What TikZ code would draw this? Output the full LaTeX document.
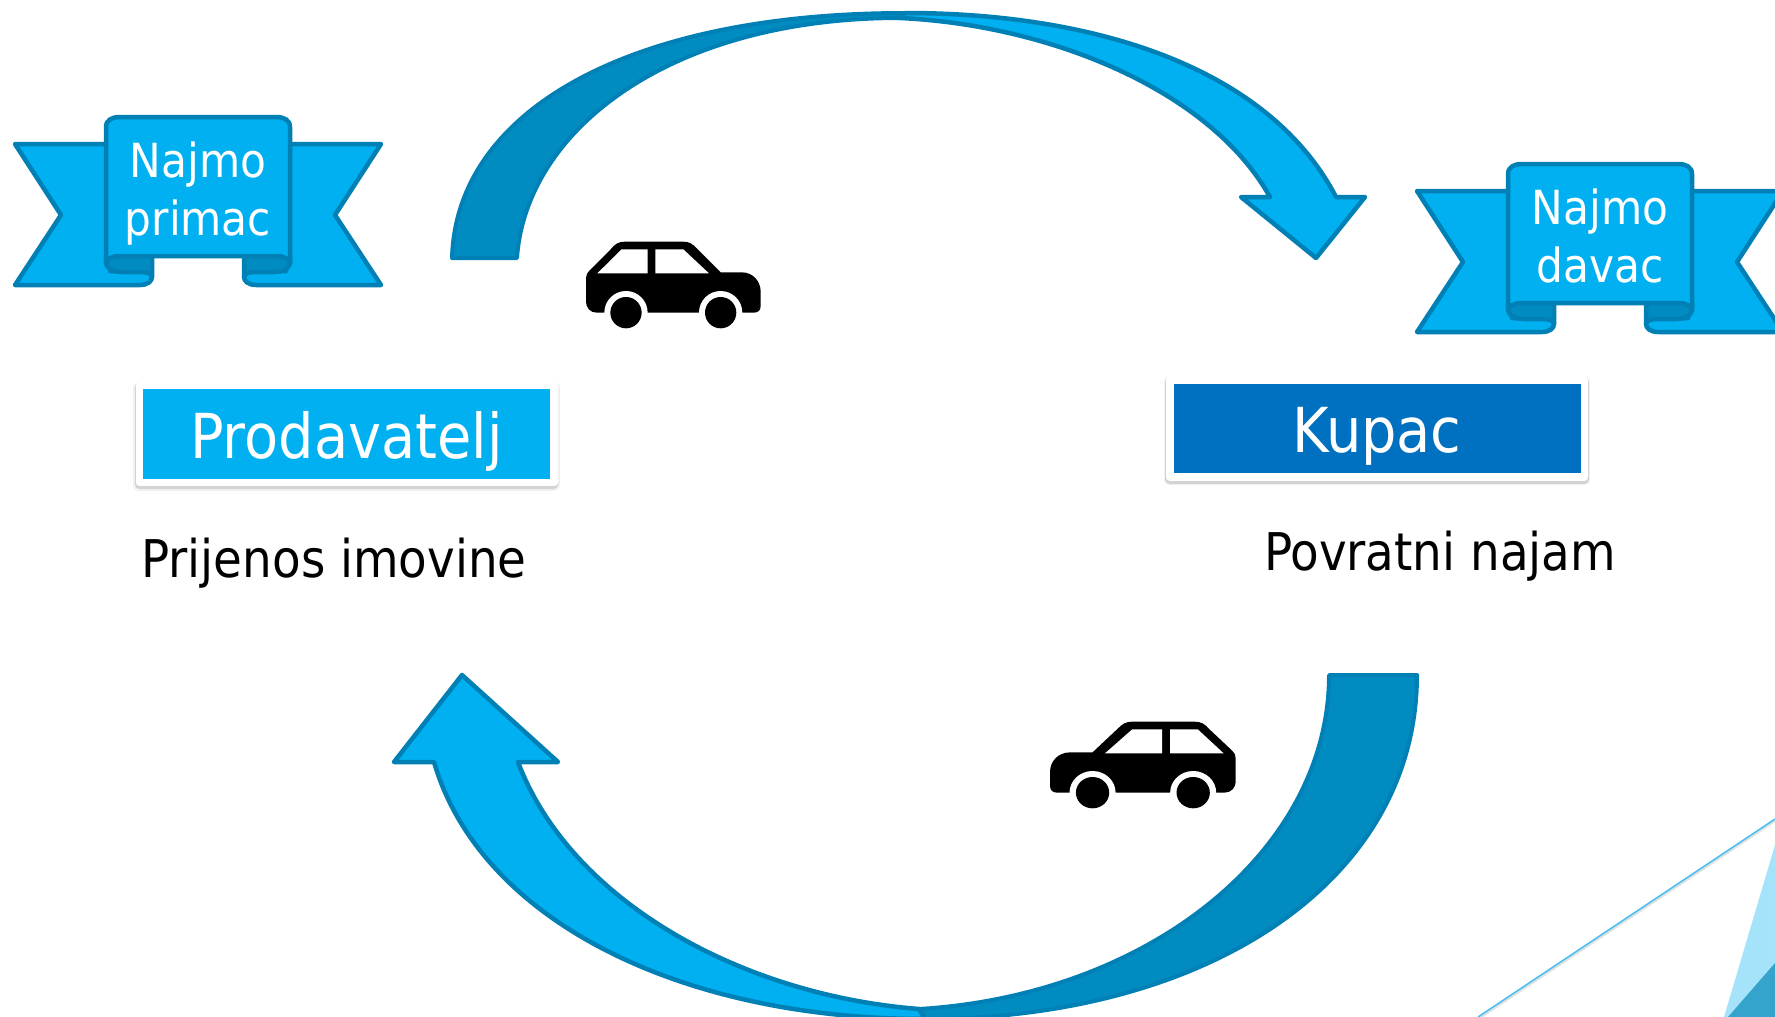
\documentclass[tikz,border=0pt]{standalone}
\usepackage{fontspec}
\setmainfont{DejaVu Sans Condensed}
\usetikzlibrary{shadows}
\definecolor{lightblue}{HTML}{00B0F0}
\definecolor{darkblue}{HTML}{0070C0}
\definecolor{edgeblue}{HTML}{0080B5}
\definecolor{foldblue}{HTML}{008CC1}
\definecolor{paleblue}{HTML}{A5E3FA}
\definecolor{deepblue}{HTML}{35A4CD}
\definecolor{lineblue}{HTML}{45BFEE}
\tikzstyle{band}=[draw=edgeblue,line width=4.5pt,line join=round,fill=lightblue]
\tikzstyle{fold}=[draw=edgeblue,line width=4.5pt,line join=round,fill=foldblue]
\tikzstyle{sweep}=[draw=edgeblue,line width=4.5pt,line join=round,fill=lightblue]
\tikzstyle{sweepdark}=[draw=edgeblue,line width=4pt,line join=round,fill=foldblue]
\tikzstyle{title}=[rectangle,draw=white,line width=7.5pt,line join=round,minimum width=414.5pt,minimum height=97pt,text=white,text height=48pt,text depth=0pt,font=\fontsize{62}{74}\selectfont,
    drop shadow={shadow xshift=0pt,shadow yshift=-2pt,opacity=0.06,draw=black,line width=12pt},
    drop shadow={shadow xshift=0pt,shadow yshift=-2pt,opacity=0.12,draw=black,line width=9pt}]
\tikzstyle{caption}=[anchor=base,font=\fontsize{52}{62}\selectfont,text=black]
\tikzstyle{ribbontext}=[anchor=north,align=center,text=white,font=\fontsize{47}{58}\selectfont]
% one tail of the ribbon, with its fold
\newcommand{\ribtail}{
    \path[band] (110,144) -- (15,144) -- (61,215) -- (15,285) -- (140,285) .. controls (148,285) and (152,281) .. (152,277) .. controls (152,273) and (148,271) .. (140,271) -- (110,271) -- cycle;
    \path[fold] (106,262) .. controls (106,268) and (112,272) .. (122,272) -- (140,272) .. controls (148,272) and (152,274) .. (152,277) -- (152,256) -- (106,256) -- cycle;
}
% one car, looking right
\newcommand{\carshape}{
    \fill[black] (48,175) .. controls (48,165) and (52,158) .. (58,152) -- (122,88) .. controls (135,72) and (145,65) .. (165,65) -- (340,65) .. controls (358,65) and (368,72) .. (380,85) -- (452,157) -- (515,157) .. controls (550,157) and (572,185) .. (572,215) -- (572,258) .. controls (572,270) and (565,278) .. (552,278) -- (80,278) .. controls (60,278) and (48,262) .. (48,245) -- cycle;
    \fill[white] (82,160) -- (155,88) -- (233,88) -- (233,160) -- cycle;
    \fill[white] (256,88) -- (340,88) -- (417,160) -- (256,160) -- cycle;
    \foreach \wx in {168,452} {
        \fill[white] (\wx,278) circle (65);
        \fill[black] (\wx,278) circle (47);
    }
}
\begin{document}
\begin{tikzpicture}[x=1pt,y=-1pt]
    \useasboundingbox (0,0) rectangle (1775,1017);
    % Corner decoration
    \fill[paleblue] (1775,845) -- (1724,1017) -- (1775,1017) -- cycle;
    \fill[deepblue] (1775,963) -- (1728,1017) -- (1775,1017) -- cycle;
    \draw[black!12,line width=2pt] (1479,1018.5) -- (1775,821);
    \draw[lineblue,line width=1.5pt] (1478,1017) -- (1775,819);
    % Top arrow
    \path[sweepdark] (452,258) .. controls (456,110) and (630,13) .. (905,13) -- (900,18) .. controls (670,18) and (526,130) .. (517,258) -- cycle;
    \path[sweep] (905,13) .. controls (1100,13) and (1270,70) .. (1336,197) -- (1365,197) -- (1316,258) -- (1241,197) -- (1270,197) .. controls (1210,90) and (1050,25) .. (900,18) -- cycle;
    % Bottom arrow
    \path[sweepdark] (1329,675) .. controls (1329,850) and (1150,995) .. (919,1009) -- (925,1019) .. controls (1210,1019) and (1417,880) .. (1417,675) -- cycle;
    \path[sweep] (434,762) .. controls (480,920) and (680,1019) .. (925,1019) -- (919,1009) .. controls (740,995) and (570,900) .. (518,762) -- (558,762) -- (462,675) -- (394,762) -- cycle;
    % Ribbons
    \foreach \dx/\dy/\name/\lbl in {0/0/primac/{Najmo\\primac},1402/47/davac/{Najmo\\davac}} {
        \begin{scope}[shift={(\dx,\dy)}]
            \ribtail
            \begin{scope}[shift={(396,0)},xscale=-1]
                \ribtail
            \end{scope}
            \path[band] (106,127) .. controls (106,120) and (112,117) .. (120,117) -- (276,117) .. controls (284,117) and (290,120) .. (290,127) -- (290,264) .. controls (290,259) and (284,256) .. (276,256) -- (120,256) .. controls (112,256) and (106,259) .. (106,264) -- cycle;
            \node[ribbontext] (\name) at (198,138) {\lbl};
        \end{scope}
    }
    % Boxes and captions
    \node[title,fill=lightblue] (seller) at (346.5,434) {Prodavatelj};
    \node[title,fill=darkblue] (buyer) at (1377,428.5) {Kupac};
    \node[caption] (transfer) at (334,577) {Prijenos imovine};
    \node[caption] (lease) at (1440,570) {Povratni najam};
    % Cars
    \begin{scope}[shift={(570,220)},xscale=0.3333,yscale=0.3333]
        \carshape
    \end{scope}
    \begin{scope}[shift={(1252.7,700)},xscale=-0.3543,yscale=0.3333]
        \carshape
    \end{scope}
\end{tikzpicture}
\end{document}
